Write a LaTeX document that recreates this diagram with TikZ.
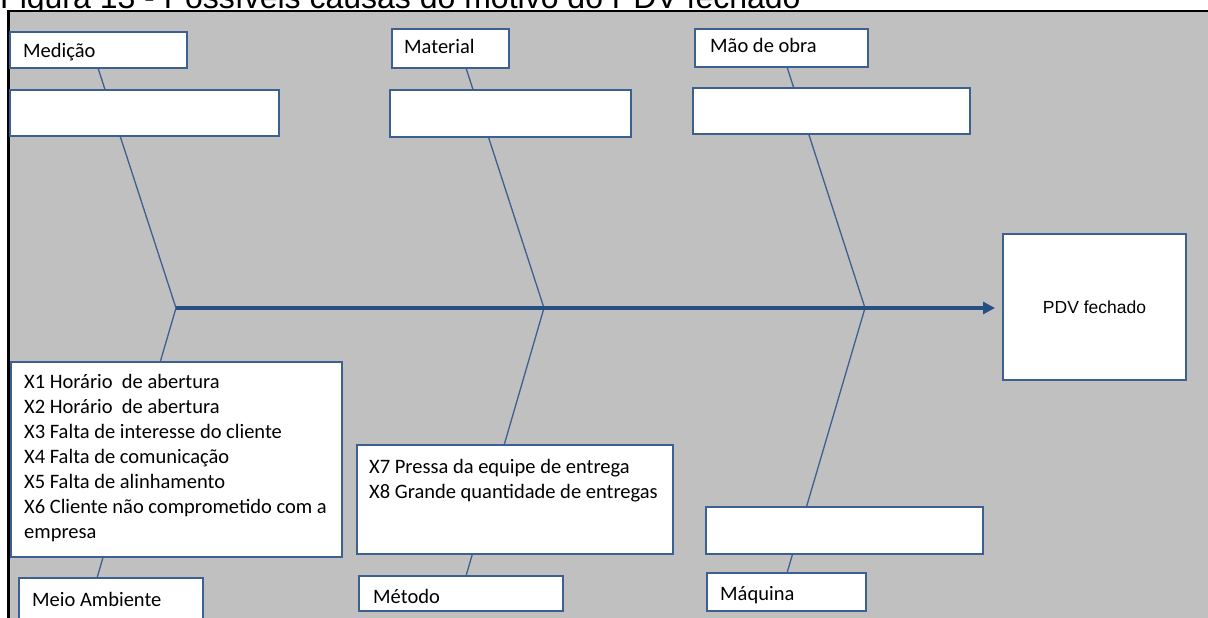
\documentclass[tikz,border=0pt]{standalone}
\usepackage{fontspec}
\setmainfont{Carlito}
\newfontfamily\arialfont{Liberation Sans}
\usetikzlibrary{arrows.meta}
\definecolor{bgray}{RGB}{192,192,192}
\definecolor{edgeblue}{RGB}{60,96,146}
\definecolor{spineblue}{RGB}{38,80,130}

\begin{document}
\begin{tikzpicture}[x=1pt,y=-1pt,
  box/.style={draw=edgeblue, fill=white, line width=1.4pt, anchor=north west, inner sep=0pt, outer sep=0pt},
  bone/.style={draw=edgeblue, line width=1.3pt},
  spine/.style={draw=spineblue, line width=4pt, -{Triangle[length=12pt,width=12pt]}},
  lbl/.style={anchor=base west, inner sep=0pt, font=\fontsize{20.5}{25}\selectfont},
  list/.style={anchor=north west, inner sep=0pt, align=left, font=\fontsize{20.5}{25}\selectfont}
]
\useasboundingbox (0,0) rectangle (1208,618);

% caption, cut off by the frame below it
\begin{scope}
  \clip (0,0) rectangle (1208,11);
  \node[anchor=base west, inner sep=0pt, font=\arialfont\fontsize{32}{38}\selectfont] (title) at (0,9)
    {Figura 13 - Possíveis causas do motivo do PDV fechado};
\end{scope}

% grey canvas with its frame (running past the page on the right and bottom)
\fill[bgray] (9,11) rectangle (1214,624);
\draw[black, line width=2.5pt] (8.5,624) -- (8.5,11) -- (1214,11);

% joints on the spine and the ends of the bones
\coordinate (j1) at (176,308);
\coordinate (j2) at (544,308);
\coordinate (j3) at (865,308);
\coordinate (u1) at (98,68);
\coordinate (u2) at (466,68);
\coordinate (u3) at (787,67);
\coordinate (l1) at (97,578);
\coordinate (l2) at (466,576);
\coordinate (l3) at (787,573);

% bones
\draw[bone] (u1) -- (j1) -- (l1);
\draw[bone] (u2) -- (j2) -- (l2);
\draw[bone] (u3) -- (j3) -- (l3);

% category and cause boxes, top row
\node[box, minimum width=177, minimum height=36] (medl) at (10,32) {};
\node[box, minimum width=269, minimum height=46] (medc) at (10,90) {};
\node[box, minimum width=117, minimum height=39] (matl) at (392,29) {};
\node[box, minimum width=241, minimum height=47] (matc) at (390,90) {};
\node[box, minimum width=173, minimum height=38] (maol) at (695,29) {};
\node[box, minimum width=277, minimum height=46] (maoc) at (693,88) {};

% bottom row
\node[box, minimum width=331, minimum height=195] (meic) at (11,362) {};
\node[box, minimum width=184, minimum height=45] (meil) at (19,578) {};
\node[box, minimum width=316, minimum height=109] (metc) at (357,445) {};
\node[box, minimum width=204, minimum height=35] (metl) at (359,576) {};
\node[box, minimum width=277, minimum height=47] (maqc) at (706,507) {};
\node[box, minimum width=159, minimum height=38] (maql) at (707,573) {};

% effect
\node[box, minimum width=183, minimum height=146, font=\arialfont\fontsize{17.5}{21}\selectfont] (pdv) at (1003,234) {PDV fechado};

% labels
\node[lbl] (tmed) at (23,58) {Medição};
\node[lbl] (tmat) at (404,54) {Material};
\node[lbl] (tmao) at (710,53) {Mão de obra};
\node[lbl] (tmei) at (32,606) {Meio Ambiente};
\node[lbl] (tmet) at (373,603) {Método};
\node[lbl] (tmaq) at (720,600) {Máquina};

% causes
\node[list] (cmei) at (24,370) {\rule{0pt}{18pt}X1 Horário\ \ de abertura\\
  X2 Horário\ \ de abertura\\
  X3 Falta de interesse do cliente\\
  X4 Falta de comunicação\\
  X5 Falta de alinhamento\\
  X6 Cliente não comprometido com a\\
  empresa};
\node[list] (cmet) at (369,455) {\rule{0pt}{18pt}X7 Pressa da equipe de entrega\\
  X8 Grande quantidade de entregas};

% spine
\draw[spine, shorten >=8pt] (j1) -- (j1 -| pdv.west);
\end{tikzpicture}
\end{document}
